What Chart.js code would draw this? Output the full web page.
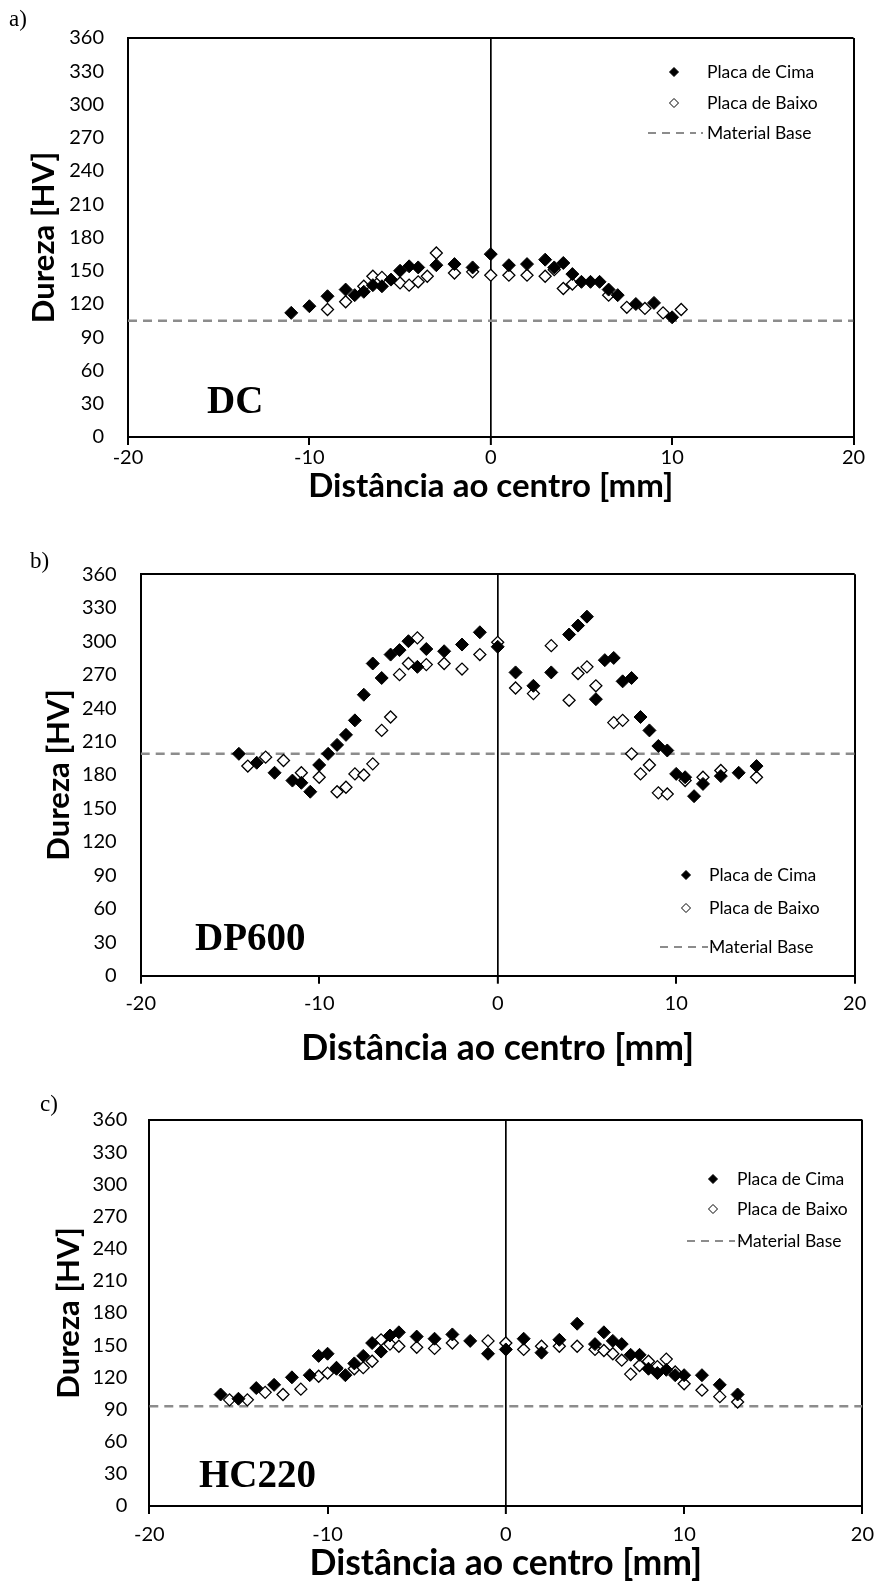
<!DOCTYPE html>
<html>
<head>
<meta charset="utf-8">
<script src="https://cdn.jsdelivr.net/npm/chart.js@4.4.1/dist/chart.umd.min.js"></script>
<style>
  body { margin: 0; background: #fff; }
  #page { position: relative; width: 883px; height: 1584px; overflow: hidden; }
  canvas { position: absolute; left: 0; }
  .tag { position: absolute; font-family: "Liberation Serif", serif; color: #000; line-height: 1; white-space: nowrap; }
  .letter { font-size: 23px; }
  .steel { font-size: 39px; font-weight: bold; }
</style>
</head>
<body>
<div id="page">
  <canvas id="chartDC"></canvas>
  <canvas id="chartDP"></canvas>
  <canvas id="chartHC"></canvas>
  <div class="tag letter" style="left:9px;top:7px">a)</div>
  <div class="tag letter" style="left:30px;top:549px">b)</div>
  <div class="tag letter" style="left:40px;top:1092px">c)</div>
  <div class="tag steel" style="left:207px;top:380px">DC</div>
  <div class="tag steel" style="left:195px;top:917px">DP600</div>
  <div class="tag steel" style="left:199px;top:1454px">HC220</div>
</div>
<script>
// DC
const dcCimaX = [-11, -10, -9, -8, -7.5, -7, -6.5, -6, -5.5, -5, -4.5, -4, -3, -2, -1, 0, 1, 2, 3, 3.5, 4, 4.5, 5, 5.5, 6, 6.5, 7, 8, 9, 10];
const dcCimaY = [112, 118, 127, 133, 128, 131, 137, 136, 142, 150, 154, 153, 155, 156, 153, 165, 155, 156, 160, 153, 157, 147, 140, 140, 140, 133, 128, 120, 121, 108];
const dcBaixoX = [-9, -8, -7, -6.5, -6, -5, -4.5, -4, -3.5, -3, -2, -1, 0, 1, 2, 3, 3.5, 4, 4.5, 6.5, 7.5, 8.5, 9.5, 10.5];
const dcBaixoY = [115, 122, 136, 145, 144, 139, 137, 140, 145, 166, 148, 149, 146, 146, 146, 145, 151, 134, 138, 128, 117, 116, 112, 115];
const dcBase = 105;

// DP600
const dpCimaX = [-14.5, -13.5, -12.5, -11.5, -11, -10.5, -10, -9.5, -9, -8.5, -8, -7.5, -7, -6.5, -6, -5.5, -5, -4.5, -4, -3, -2, -1, 0, 1, 2, 3, 4, 4.5, 5, 5.5, 6, 6.5, 7, 7.5, 8, 8.5, 9, 9.5, 10, 10.5, 11, 11.5, 12.5, 13.5, 14.5];
const dpCimaY = [199, 191, 182, 175, 173, 165, 189, 199, 207, 216, 229, 252, 280, 267, 288, 292, 300, 277, 293, 291, 297, 308, 295, 272, 260, 272, 306, 314, 322, 248, 283, 285, 264, 267, 232, 220, 206, 202, 181, 178, 161, 172, 179, 182, 188];
const dpBaixoX = [-14, -13, -12, -11, -10, -9, -8.5, -8, -7.5, -7, -6.5, -6, -5.5, -5, -4.5, -4, -3, -2, -1, 0, 1, 2, 3, 4, 4.5, 5, 5.5, 6.5, 7, 7.5, 8, 8.5, 9, 9.5, 10.5, 11.5, 12.5, 14.5];
const dpBaixoY = [188, 196, 193, 182, 178, 165, 169, 181, 180, 190, 220, 232, 270, 280, 303, 279, 280, 275, 288, 299, 258, 253, 296, 247, 271, 277, 260, 227, 229, 199, 181, 189, 164, 163, 175, 178, 184, 178];
const dpBase = 199;

// HC220
const hcCimaX = [-16, -15, -14, -13, -12, -11, -10.5, -10, -9.5, -9, -8.5, -8, -7.5, -7, -6.5, -6, -5, -4, -3, -2, -1, 0, 1, 2, 3, 4, 5, 5.5, 6, 6.5, 7, 7.5, 8, 8.5, 9, 9.5, 10, 11, 12, 13];
const hcCimaY = [104, 100, 110, 113, 120, 122, 140, 142, 128, 122, 133, 140, 152, 144, 159, 162, 158, 156, 160, 154, 142, 146, 156, 143, 155, 170, 151, 162, 154, 151, 141, 141, 128, 124, 127, 122, 122, 122, 113, 104];
const hcBaixoX = [-15.5, -14.5, -13.5, -12.5, -11.5, -10.5, -10, -9.5, -8.5, -8, -7.5, -7, -6.5, -6, -5, -4, -3, -1, 0, 1, 2, 3, 4, 5, 5.5, 6, 6.5, 7, 7.5, 8, 8.5, 9, 9.5, 10, 11, 12, 13];
const hcBaixoY = [99, 99, 106, 104, 109, 121, 124, 129, 128, 129, 135, 155, 151, 149, 148, 147, 152, 154, 152, 146, 149, 149, 149, 146, 145, 142, 136, 123, 131, 135, 130, 137, 125, 114, 108, 102, 97];
const hcBase = 93;

const xTicks = [-20, -10, 0, 10, 20];
const yTicks = [0, 30, 60, 90, 120, 150, 180, 210, 240, 270, 300, 330, 360];
const seriesNames = ['Placa de Cima', 'Placa de Baixo', 'Material Base'];

const SANS = 'Lato';

function toPoints(xs, ys) {
    return xs.map((x, i) => ({ x: x, y: ys[i] }));
}

// legend drawn inside the plot area, Excel style
const insideLegend = {
    id: 'insideLegend',
    afterDraw(chart, args, opts) {
        const ctx = chart.ctx;
        ctx.save();
        ctx.font = '17.5px ' + SANS;
        ctx.textBaseline = 'middle';
        ctx.textAlign = 'left';
        chart.data.datasets.forEach((ds, i) => {
            const y = opts.rows[i];
            const x = opts.x;
            if (ds.showLine) {
                ctx.strokeStyle = ds.borderColor;
                ctx.lineWidth = 2;
                ctx.setLineDash([8, 6]);
                ctx.beginPath();
                ctx.moveTo(x - 26, y);
                ctx.lineTo(x + 22, y);
                ctx.stroke();
                ctx.setLineDash([]);
                ctx.fillStyle = ds.borderColor;
                ctx.fillRect(x + 27, y - 1, 2, 2);
            } else {
                const r = 4.5;
                ctx.beginPath();
                ctx.moveTo(x, y - r);
                ctx.lineTo(x + r, y);
                ctx.lineTo(x, y + r);
                ctx.lineTo(x - r, y);
                ctx.closePath();
                ctx.fillStyle = ds.backgroundColor;
                ctx.fill();
                ctx.strokeStyle = '#000';
                ctx.lineWidth = 1;
                ctx.stroke();
            }
            ctx.fillStyle = '#000';
            ctx.fillText(ds.label, opts.textX, y);
        });
        ctx.restore();
    }
};

function makePanel(id, g, cimaX, cimaY, baixoX, baixoY, base) {
    const canvas = document.getElementById(id);
    canvas.width = 883;
    canvas.height = g.height;
    canvas.style.top = g.top + 'px';

    new Chart(canvas.getContext('2d'), {
        type: 'scatter',
        data: {
            datasets: [
                {
                    label: seriesNames[0],
                    data: toPoints(cimaX, cimaY),
                    pointStyle: 'rectRot',
                    pointRadius: 6.5,
                    backgroundColor: '#000',
                    borderColor: '#000',
                    borderWidth: 1
                },
                {
                    label: seriesNames[1],
                    data: toPoints(baixoX, baixoY),
                    pointStyle: 'rectRot',
                    pointRadius: 6,
                    backgroundColor: '#fff',
                    borderColor: '#000',
                    borderWidth: 1.3
                },
                {
                    label: seriesNames[2],
                    data: toPoints([xTicks[0], xTicks[xTicks.length - 1]], [base, base]),
                    showLine: true,
                    pointRadius: 0,
                    borderColor: '#8c8c8c',
                    backgroundColor: '#8c8c8c',
                    borderWidth: 2.5,
                    borderDash: [9, 6]
                }
            ]
        },
        options: {
            responsive: false,
            animation: false,
            events: [],
            layout: { padding: { top: g.plotTop, right: 883 - g.plotRight, left: 0, bottom: 0 } },
            plugins: {
                legend: { display: false },
                tooltip: { enabled: false },
                insideLegend: g.legend
            },
            scales: {
                x: {
                    type: 'linear',
                    min: xTicks[0],
                    max: xTicks[xTicks.length - 1],
                    afterBuildTicks: s => { s.ticks = xTicks.map(v => ({ value: v })); },
                    afterFit: s => { s.height = g.height - g.plotBottom; },
                    ticks: { color: '#000', font: { family: SANS, size: 20 }, padding: g.xTickPad },
                    grid: {
                        color: c => (c.tick && (c.tick.value === 0 || c.tick.value === 20)) ? '#000' : 'rgba(0,0,0,0)',
                        lineWidth: c => (c.tick && c.tick.value === 0) ? 1.7 : 2,
                        drawTicks: true,
                        tickLength: 8,
                        tickColor: '#000',
                        tickWidth: 2
                    },
                    border: { display: true, color: '#000', width: 2 },
                    title: {
                        display: true,
                        text: 'Distância ao centro [mm]',
                        color: '#000',
                        font: { family: SANS, size: g.xTitleSize, weight: 'bold', lineHeight: 1 },
                        padding: { top: 0, bottom: g.xTitlePad }
                    }
                },
                y: {
                    type: 'linear',
                    min: yTicks[0],
                    max: yTicks[yTicks.length - 1],
                    afterBuildTicks: s => { s.ticks = yTicks.map(v => ({ value: v })); },
                    afterFit: s => { s.width = g.plotLeft; },
                    ticks: { color: '#000', font: { family: SANS, size: 20 }, padding: g.yTickPad },
                    grid: {
                        color: c => (c.tick && c.tick.value === 360) ? '#000' : 'rgba(0,0,0,0)',
                        lineWidth: 2,
                        drawTicks: false
                    },
                    border: { display: true, color: '#000', width: 2 },
                    title: {
                        display: true,
                        text: 'Dureza [HV]',
                        color: '#000',
                        font: { family: SANS, size: 31, weight: 'bold', lineHeight: 1 },
                        padding: { top: g.yTitlePad, bottom: 0 }
                    }
                }
            }
        },
        plugins: [insideLegend]
    });
}

makePanel('chartDC', {
    top: 0, height: 530,
    plotLeft: 128, plotRight: 853.5, plotTop: 38, plotBottom: 437,
    xTickPad: 1, xTitleSize: 33, xTitlePad: 27.5, yTitlePad: 28, yTickPad: 24,
    legend: { x: 674, textX: 707, rows: [72, 103, 133] }
}, dcCimaX, dcCimaY, dcBaixoX, dcBaixoY, dcBase);

makePanel('chartDP', {
    top: 530, height: 540,
    plotLeft: 140.7, plotRight: 854.7, plotTop: 44.3, plotBottom: 445.7,
    xTickPad: 8, xTitleSize: 35.5, xTitlePad: 4, yTitlePad: 43.5, yTickPad: 24,
    legend: { x: 686, textX: 709, rows: [345, 378, 417] }
}, dpCimaX, dpCimaY, dpBaixoX, dpBaixoY, dpBase);

makePanel('chartHC', {
    top: 1070, height: 514,
    plotLeft: 149.3, plotRight: 868.3, plotTop: 50, plotBottom: 436,
    xTickPad: 9, xTitleSize: 35.5, xTitlePad: 2.5, yTitlePad: 53, yTickPad: 22,
    legend: { x: 713, textX: 737, rows: [109, 139, 171] }
}, hcCimaX, hcCimaY, hcBaixoX, hcBaixoY, hcBase);
</script>
</body>
</html>
